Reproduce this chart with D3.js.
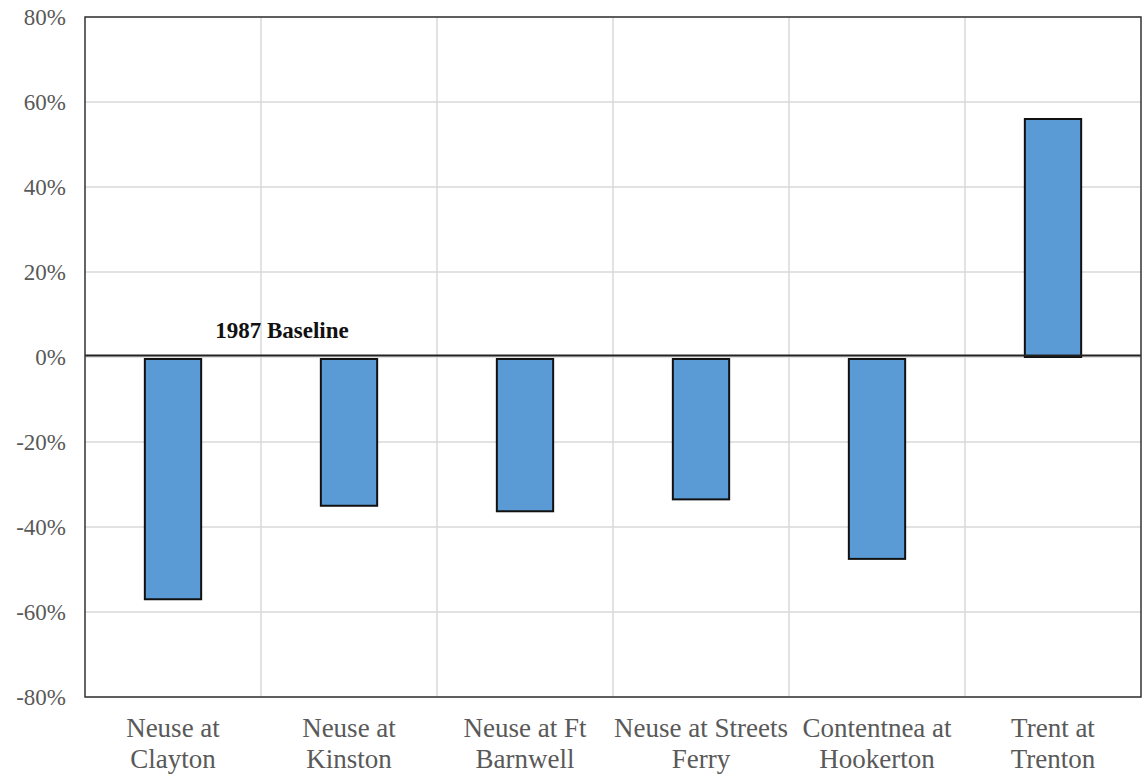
<!DOCTYPE html>
<html><head><meta charset="utf-8">
<script src="https://cdn.jsdelivr.net/npm/d3@7"></script>
<style>html,body{margin:0;padding:0;background:#fff;}</style>
</head><body>
<svg id="c" width="1145" height="776"></svg>
<script>
const categories = ["Neuse at Clayton","Neuse at Kinston","Neuse at Ft Barnwell","Neuse at Streets Ferry","Contentnea at Hookerton","Trent at Trenton"];
const labelLines = [["Neuse at","Clayton"],["Neuse at","Kinston"],["Neuse at Ft","Barnwell"],["Neuse at Streets","Ferry"],["Contentnea at","Hookerton"],["Trent at","Trenton"]];
const values = [-57, -35, -36.3, -33.5, -47.5, 56];
const yTicks = [-80,-60,-40,-20,0,20,40,60,80];
const baselineLabel = "1987 Baseline";

const svg = d3.select("#c");
const L = 85, R = 1141, T = 17, B = 697;
const x = d3.scaleBand().domain(categories).range([L, R]).paddingInner(0).paddingOuter(0);
const y = d3.scaleLinear().domain([-80, 80]).range([B, T]);
const barW = x.bandwidth() * 0.32;
const font = "'Liberation Serif','Times New Roman',serif";

// horizontal gridlines
svg.append("g").selectAll("line").data(yTicks).join("line")
  .attr("x1", L).attr("x2", R).attr("y1", d => y(d)).attr("y2", d => y(d))
  .attr("stroke", "#d9d9d9").attr("stroke-width", 1.5);
// vertical gridlines between categories
svg.append("g").selectAll("line").data(categories.slice(1)).join("line")
  .attr("x1", d => x(d)).attr("x2", d => x(d)).attr("y1", T).attr("y2", B)
  .attr("stroke", "#d9d9d9").attr("stroke-width", 1.5);

// bars
svg.append("g").selectAll("rect").data(values).join("rect")
  .attr("x", (d, i) => x(categories[i]) + x.bandwidth() / 2 - barW / 2)
  .attr("width", barW)
  .attr("y", d => d >= 0 ? y(d) : y(0) + 2)
  .attr("height", d => Math.abs(y(d) - y(0)) - (d >= 0 ? 0 : 2))
  .attr("fill", "#5b9bd5").attr("stroke", "#111").attr("stroke-width", 2);

// zero line
svg.append("line").attr("x1", L).attr("x2", R).attr("y1", y(0) - 1.5).attr("y2", y(0) - 1.5)
  .attr("stroke", "#222").attr("stroke-width", 2.2);

// plot border
svg.append("rect").attr("x", L).attr("y", T).attr("width", R - L).attr("height", B - T)
  .attr("fill", "none").attr("stroke", "#333").attr("stroke-width", 1.5);

// y-axis labels
const yAxis = d3.axisLeft(y).tickValues(yTicks).tickFormat(d => d + "%").tickSize(0).tickPadding(19);
const gy = svg.append("g").attr("transform", `translate(${L},0)`).call(yAxis);
gy.select(".domain").remove();
gy.selectAll("text").attr("font-family", font).attr("font-size", 23).attr("fill", "#595959");

// category labels
const gx = svg.append("g");
labelLines.forEach((lines, i) => {
  const t = gx.append("text").attr("text-anchor", "middle")
    .attr("font-family", font).attr("font-size", 27).attr("fill", "#595959");
  lines.forEach((ln, j) => {
    t.append("tspan").attr("x", x(categories[i]) + x.bandwidth() / 2).attr("y", 737 + j * 31).text(ln);
  });
});

// baseline label
svg.append("text").attr("x", 282).attr("y", 338).attr("text-anchor", "middle")
  .attr("font-family", font).attr("font-size", 23).attr("font-weight", "bold").attr("fill", "#111")
  .text(baselineLabel);
</script>
</body></html>
